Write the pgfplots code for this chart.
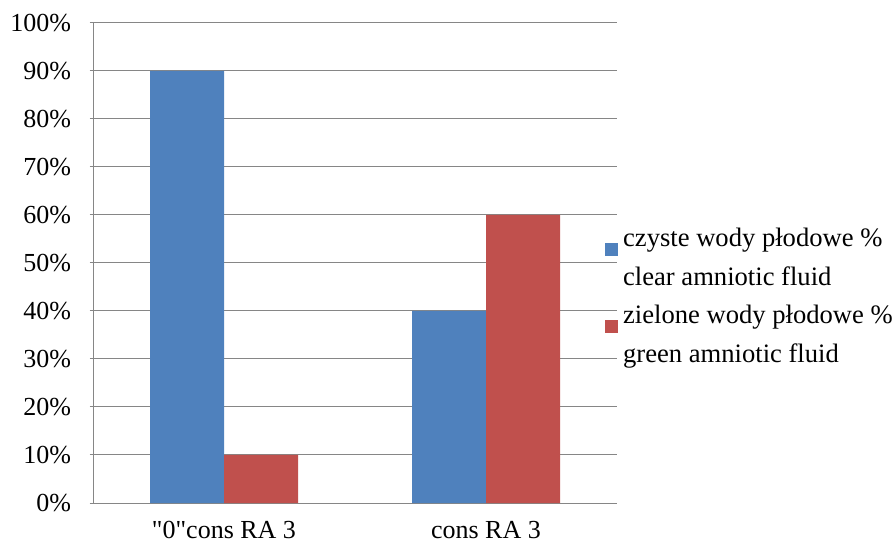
\documentclass[border=0pt]{standalone}
\usepackage{pgfplots}
\pgfplotsset{compat=1.18}
\usepackage{fontspec}
\setmainfont{Liberation Serif}
\newfontfamily\nq{Liberation Serif}
\definecolor{cblue}{RGB}{79,129,189}
\definecolor{cred}{RGB}{192,80,77}
\definecolor{cgrid}{RGB}{134,134,134}
\begin{document}
\begin{tikzpicture}
\useasboundingbox (0,0) rectangle (895pt,544pt);
\begin{axis}[
  at={(93pt,41pt)}, anchor=south west,
  scale only axis, width=524pt, height=480pt,
  ybar=0pt, bar width=74pt,
  xmin=-0.5, xmax=1.5, ymin=0, ymax=100,
  xtick={0,1}, xticklabels={{\nq"0"cons RA 3}, cons RA 3},
  x tick style={draw=none},
  extra x ticks={-0.5,0.5,1.5}, extra x tick labels={},
  extra x tick style={major tick length=7pt, tick style={draw=cgrid, line width=1pt}, grid=none},
  ytick={0,10,...,100},
  yticklabel={\pgfmathprintnumber{\tick}\%},
  ymajorgrids, grid style={cgrid, line width=1pt},
  y tick style={cgrid, line width=1pt},
  major tick length=7pt,
  tick align=outside,
  axis x line=bottom, axis y line=left,
  axis line style={-, cgrid, line width=1pt},
  /pgf/number format/assume math mode=true,
  tick label style={font=\fontsize{26}{30}\selectfont, black},
  yticklabel style={xshift=-15pt},
  xticklabel style={yshift=-11pt},
  legend style={draw=none, fill=none, at={(0.977,0.431)}, anchor=west,
    font=\fontsize{26.6}{35}\selectfont, cells={align=left, anchor=west},
    row sep=14pt, inner sep=0pt},
  legend image code/.code={\path[draw=none,fill=none] (0pt,-21pt) rectangle (16pt,21pt);\fill[#1] (0pt,2pt) rectangle (13pt,15pt);},
  legend cell align=left,
]
\addplot[fill=cblue, draw=none] coordinates {(0,90) (1,40)};
\addlegendentry{czyste wody płodowe \%\\[4pt]clear amniotic fluid}
\addplot[fill=cred, draw=none] coordinates {(0,10) (1,60)};
\addlegendentry{zielone wody płodowe \%\\[4pt]green amniotic fluid}
\end{axis}
\end{tikzpicture}
\end{document}
